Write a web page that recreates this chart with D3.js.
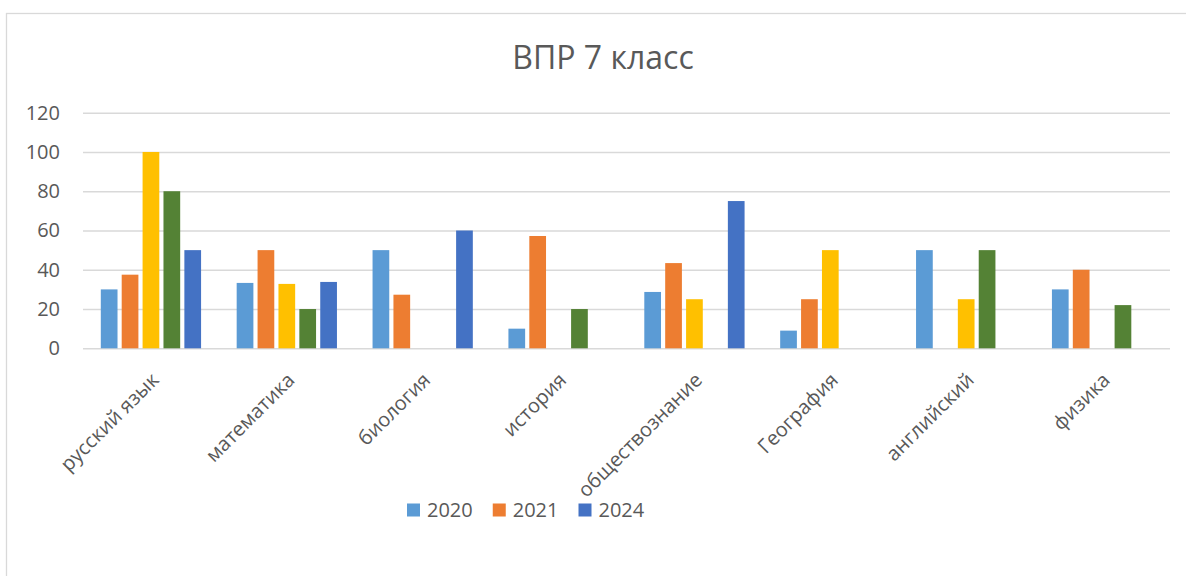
<!DOCTYPE html>
<html>
<head>
<meta charset="utf-8">
<script src="https://cdn.jsdelivr.net/npm/d3@7"></script>
<style>
  body { margin: 0; background: #fff; }
  svg { display: block; font-family: "Open Sans", sans-serif; }
</style>
</head>
<body>
<svg></svg>
<script>
// subjects on the x axis
let categories = ['русский язык', 'математика', 'биология', 'история', 'обществознание', 'География', 'английский', 'физика']

// one array per year, null where there is no bar
let series = ['2020', '2021', '2022', '2023', '2024']
let values2020 = [30, 33.3, 50, 10, 28.7, 9, 50, 30]
let values2021 = [37.5, 50, 27.3, 57.2, 43.4, 25, null, 40]
let values2022 = [100, 32.8, null, null, 25, 50, 25, null]
let values2023 = [80, 20, null, 20, null, null, 50, 22]
let values2024 = [50, 33.8, 60, null, 75, null, null, null]

let yTicks = [0, 20, 40, 60, 80, 100, 120]
let legendSeries = ['2020', '2021', '2024']

let colors = {
    '2020': '#5b9bd5',
    '2021': '#ed7d31',
    '2022': '#ffc000',
    '2023': '#548235',
    '2024': '#4472c4'
}

let width = 1186
let height = 576
let plotLeft = 83
let plotRight = 1170
let plotTop = 112.7
let plotBottom = 348.3

let svg = d3.select('svg')
    .attr('width', width)
    .attr('height', height)

// chart frame
svg.append('rect')
   .attr('x', 6.5)
   .attr('y', 13.5)
   .attr('width', 1300)
   .attr('height', 700)
   .attr('fill', '#fff')
   .attr('stroke', '#d9d9d9')
   .attr('stroke-width', 1.3)

svg.append('text')
   .attr('x', 603)
   .attr('y', 68.5)
   .attr('text-anchor', 'middle')
   .attr('font-size', 32)
   .attr('fill', '#595959')
   .text('ВПР 7 класс')

let xScale = d3.scaleBand()
               .domain(categories)
               .range([plotLeft, plotRight])
               .padding(0)

let sidePad = 17.8
let xInner = d3.scaleBand()
               .domain(series)
               .range([sidePad, xScale.bandwidth() - sidePad])
               .paddingInner(0.2)

let yScale = d3.scaleLinear()
               .domain([0, 120])
               .range([plotBottom, plotTop])

// gridlines
let grid = svg.append('g')
   .attr('transform', 'translate(' + plotLeft + ',0)')
   .call(d3.axisLeft(yScale).tickValues(yTicks).tickSize(-(plotRight - plotLeft)).tickFormat(''))
grid.select('.domain').remove()
grid.selectAll('line').attr('stroke', '#d9d9d9').attr('stroke-width', 1.4)

// y labels
let yAxis = svg.append('g')
   .attr('transform', 'translate(60,0)')
   .call(d3.axisLeft(yScale).tickValues(yTicks).tickSize(0).tickPadding(0))
yAxis.select('.domain').remove()
yAxis.selectAll('text')
     .attr('font-family', '"Open Sans", sans-serif')
     .attr('font-size', 20)
     .attr('fill', '#595959')

// bars
let rows = categories.map((c, i) => {
    return {
        category: c,
        '2020': values2020[i],
        '2021': values2021[i],
        '2022': values2022[i],
        '2023': values2023[i],
        '2024': values2024[i]
    }
})

svg.append('g')
   .selectAll('g')
   .data(rows)
   .enter()
   .append('g')
   .attr('transform', (d) => 'translate(' + xScale(d.category) + ',0)')
   .selectAll('rect')
   .data((d) => series.filter((s) => d[s] !== null).map((s) => ({ key: s, value: d[s] })))
   .enter()
   .append('rect')
   .attr('x', (d) => xInner(d.key))
   .attr('width', xInner.bandwidth())
   .attr('y', (d) => yScale(d.value))
   .attr('height', (d) => plotBottom - yScale(d.value))
   .attr('fill', (d) => colors[d.key])

// x labels, rotated
let xAxis = svg.append('g')
   .attr('transform', 'translate(0,' + plotBottom + ')')
   .call(d3.axisBottom(xScale).tickSize(0))
xAxis.select('.domain').remove()
xAxis.selectAll('text')
     .attr('font-family', '"Open Sans", sans-serif')
     .attr('font-size', 20)
     .attr('fill', '#595959')
     .attr('text-anchor', 'end')
     .attr('dy', 0)
     .attr('y', 0)
     .attr('transform', 'translate(9,33) rotate(-45)')

// legend
let legend = svg.append('g')
let lx = 407
legendSeries.forEach((s) => {
    legend.append('rect')
          .attr('x', lx)
          .attr('y', 503.5)
          .attr('width', 13)
          .attr('height', 13)
          .attr('fill', colors[s])
    let t = legend.append('text')
          .attr('x', lx + 20)
          .attr('y', 517)
          .attr('font-size', 20)
          .attr('fill', '#595959')
          .text(s)
    lx = lx + 20 + t.node().getComputedTextLength() + 20
})
</script>
</body>
</html>
